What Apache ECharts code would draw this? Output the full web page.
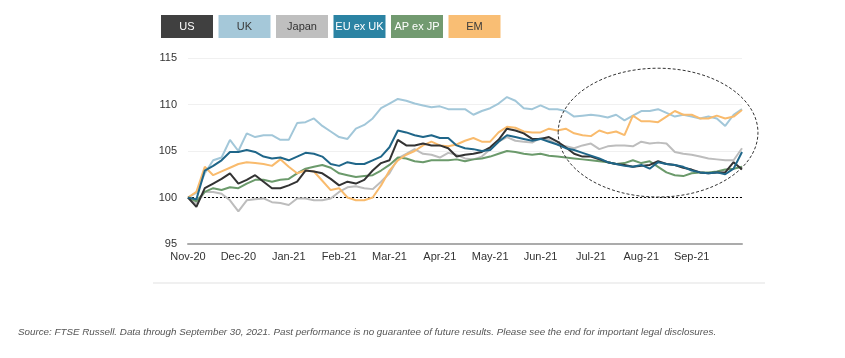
<!DOCTYPE html>
<html><head><meta charset="utf-8">
<script src="https://cdn.jsdelivr.net/npm/echarts@6/dist/echarts.min.js"></script>
<style>html,body{margin:0;padding:0;background:#fff}#c{width:845px;height:358px}</style>
</head><body><div id="c"></div>
<script>
// Tick labels (one per month, 6 points per month)
const monthLabels = ['Nov-20','Dec-20','Jan-21','Feb-21','Mar-21','Apr-21','May-21','Jun-21','Jul-21','Aug-21','Sep-21'];
const pointsPerMonth = 6;
const seriesNames = ['US','UK','Japan','EU ex UK','AP ex JP','EM'];
const yTicks = [95, 100, 105, 110, 115];

const us = [100,99.0,101.0,101.5,102.0,102.6,101.5,101.9,102.4,101.7,
  101.0,101.0,101.3,101.7,102.9,102.8,102.6,102.0,101.3,101.7,
  101.5,101.9,102.9,103.7,104.0,106.2,105.6,105.6,105.8,105.6,
  105.6,105.3,104.4,104.6,104.7,104.9,105.4,106.2,107.4,107.2,
  106.9,106.3,106.3,106.5,106.0,105.4,104.7,104.4,104.4,104.1,
  103.8,103.6,103.5,103.3,103.4,103.5,103.9,103.6,103.5,103.2,
  103.0,102.7,102.6,102.7,102.7,103.8,103.0];
const uk = [100,100.5,102.6,104.0,104.3,106.2,105.0,106.9,106.5,106.7,
  106.7,106.2,106.2,108.0,108.1,108.5,107.7,107.1,106.5,106.3,
  107.4,107.8,108.5,109.6,110.1,110.6,110.4,110.1,109.9,109.7,
  109.8,109.5,109.5,109.5,108.9,109.3,109.6,110.1,110.8,110.4,
  109.6,109.5,109.9,109.5,109.5,109.3,108.7,108.8,108.9,108.8,
  108.6,108.9,108.3,108.8,109.3,109.3,109.5,109.1,108.7,108.9,
  108.7,108.5,108.7,108.5,107.7,108.9,109.5];
const japan = [100,99.3,100.6,100.6,100.4,99.7,98.5,99.7,99.8,99.9,
  99.5,99.4,99.2,99.9,99.9,99.7,99.7,99.9,100.6,101.1,
  101.2,101.0,100.9,101.7,102.6,104.2,104.7,105.2,104.7,104.6,
  104.3,104.8,104.6,104.2,104.1,104.4,105.2,106.0,106.5,106.1,
  106.0,105.9,106.4,106.2,105.7,105.5,105.3,105.6,105.8,105.2,
  105.5,105.6,105.6,105.5,106.0,105.8,105.9,105.8,104.9,104.7,
  104.6,104.4,104.2,104.1,104.0,104.0,105.3];
const euExUk = [100,99.8,102.9,103.4,104.0,104.9,104.9,105.1,104.9,104.4,
  104.2,104.3,104.0,104.4,104.8,104.7,104.4,103.6,103.4,103.8,
  103.6,103.6,104.0,104.4,105.4,107.2,107.0,106.7,106.5,106.7,
  106.4,106.4,105.6,105.3,105.2,105.0,105.1,106.0,106.7,106.5,
  106.3,106.1,106.3,106.0,105.7,105.3,105.1,104.8,104.5,104.2,
  103.8,103.6,103.4,103.3,103.5,103.1,103.8,103.6,103.5,103.3,
  102.9,102.7,102.6,102.7,102.5,103.1,104.9];
const apExJp = [100,99.6,100.6,101.0,100.8,101.1,101.0,101.5,101.9,101.9,
  101.7,101.9,102.0,102.6,103.1,103.3,103.5,103.2,102.6,102.4,
  102.2,102.3,102.4,102.9,103.5,104.3,104.2,103.9,103.8,104.0,
  104.0,104.0,104.1,103.9,104.1,104.2,104.4,104.7,105.0,104.9,
  104.7,104.6,104.7,104.5,104.4,104.3,104.2,104.1,104.0,103.9,
  103.8,103.6,103.7,104.0,103.7,103.9,103.3,102.7,102.4,102.3,
  102.6,102.7,102.7,102.8,103.0,103.1,103.3];
const em = [100,100.6,103.3,102.4,102.8,103.2,103.6,103.8,103.7,103.6,
  103.4,104.1,103.3,102.6,102.9,102.8,101.8,100.8,101.0,100.0,
  99.7,99.7,100.0,101.3,102.9,104.0,104.6,105.0,105.6,106.0,
  105.6,105.5,105.7,106.1,106.4,106.0,106.0,107.0,107.6,107.5,
  107.1,107.0,107.0,107.4,107.2,107.4,106.9,106.7,106.6,107.2,
  106.9,107.1,106.7,108.8,108.2,108.2,108.1,108.7,109.3,108.9,
  108.9,108.5,108.5,108.8,108.5,108.7,109.4];

// highlighted region (data units: category index range, value range)
const ellipseIdx = [44.1, 67.9];
const ellipseVal = [100.05, 113.9];

const footnote = 'Source: FTSE Russell. Data through September 30, 2021. Past performance is no guarantee of future results. Please see the end for important legal disclosures.';

const dataByName = {'US':us,'UK':uk,'Japan':japan,'EU ex UK':euExUk,'AP ex JP':apExJp,'EM':em};
const lineColor = {'US':'#333333','UK':'#a2c7d9','Japan':'#bdbdbd','EU ex UK':'#1f6689','AP ex JP':'#6b9a6b','EM':'#f9bb6d'};
const boxColor = {'US':'#404040','UK':'#a5c8d9','Japan':'#bfbfbf','EU ex UK':'#2b83a3','AP ex JP':'#729a70','EM':'#f9be74'};
const boxText = {'US':'#ffffff','UK':'#3a3a3a','Japan':'#333333','EU ex UK':'#ffffff','AP ex JP':'#ffffff','EM':'#3a3a3a'};

const nPts = us.length;
const categories = [];
for (let i = 0; i < nPts; i++) {
  categories.push(i % pointsPerMonth === 0 && monthLabels[i / pointsPerMonth] ? monthLabels[i / pointsPerMonth] : '');
}

const drawOrder = ['UK','Japan','AP ex JP','EM','US','EU ex UK'];
const series = drawOrder.map((n, k) => {
  const s = {
    name: n, type: 'line', data: dataByName[n], symbol: 'none', smooth: false,
    lineStyle: { color: lineColor[n], width: 2 }, itemStyle: { color: lineColor[n] },
    silent: true, z: 2 + k
  };
  if (k === 0) {
    s.markLine = {
      silent: true, symbol: 'none', label: { show: false },
      lineStyle: { color: '#000', type: [2, 2], width: 1 },
      data: [{ yAxis: 100 }], z: 1
    };
  }
  return s;
});

const legendGraphics = [];
seriesNames.forEach((n, k) => {
  legendGraphics.push({
    type: 'group', left: 161 + k * 57.5, top: 15,
    children: [
      { type: 'rect', shape: { x: 0, y: 0, width: 52, height: 23 }, style: { fill: boxColor[n] } },
      { type: 'text', x: 26, y: 11.5, style: { text: n, fill: boxText[n], font: '11px "Liberation Sans", Arial, sans-serif', align: 'center', verticalAlign: 'middle' } }
    ]
  });
});
const staticGraphics = legendGraphics.concat([
  { type: 'line', shape: { x1: 153, y1: 283, x2: 765, y2: 283 }, style: { stroke: '#f0f0f0', lineWidth: 2 } },
  { type: 'text', left: 18, top: 327, style: { text: footnote, fill: '#555', font: 'italic 9.8px "Liberation Sans", Arial, sans-serif' } }
]);

const chart = echarts.init(document.getElementById('c'), null, { renderer: 'canvas' });
chart.setOption({
  animation: false,
  backgroundColor: '#fff',
  grid: { left: 188, right: 103, top: 58, bottom: 114, containLabel: false },
  xAxis: {
    type: 'category', data: categories, boundaryGap: false,
    axisLine: { show: true, lineStyle: { color: '#ababab', width: 2 } },
    axisTick: { show: false },
    axisLabel: { interval: pointsPerMonth - 1, color: '#333', fontSize: 11, fontFamily: '"Liberation Sans", Arial, sans-serif', margin: 7 },
    splitLine: { show: false }
  },
  yAxis: {
    type: 'value', min: yTicks[0], max: yTicks[yTicks.length - 1], interval: 5,
    axisLine: { show: false }, axisTick: { show: false },
    axisLabel: { color: '#333', fontSize: 11, fontFamily: '"Liberation Sans", Arial, sans-serif', margin: 11 },
    splitLine: { show: true, lineStyle: { color: '#f0f0f0', width: 1 } }
  },
  series: series,
  graphic: staticGraphics
});

// dashed ellipse annotation, positioned from data units
const p0 = chart.convertToPixel({ gridIndex: 0 }, [0, ellipseVal[0]]);
const p1 = chart.convertToPixel({ gridIndex: 0 }, [nPts - 1, ellipseVal[1]]);
const step = (p1[0] - p0[0]) / (nPts - 1);
const xa = p0[0] + ellipseIdx[0] * step, xb = p0[0] + ellipseIdx[1] * step;
const ya = p0[1], yb = p1[1];
chart.setOption({
  graphic: staticGraphics.concat([
    { type: 'ellipse', z: 100, shape: { cx: (xa + xb) / 2, cy: (ya + yb) / 2, rx: (xb - xa) / 2, ry: Math.abs(ya - yb) / 2 }, style: { fill: 'none', stroke: '#333', lineWidth: 1, lineDash: [3, 2] } }
  ])
});
</script>
</body></html>
